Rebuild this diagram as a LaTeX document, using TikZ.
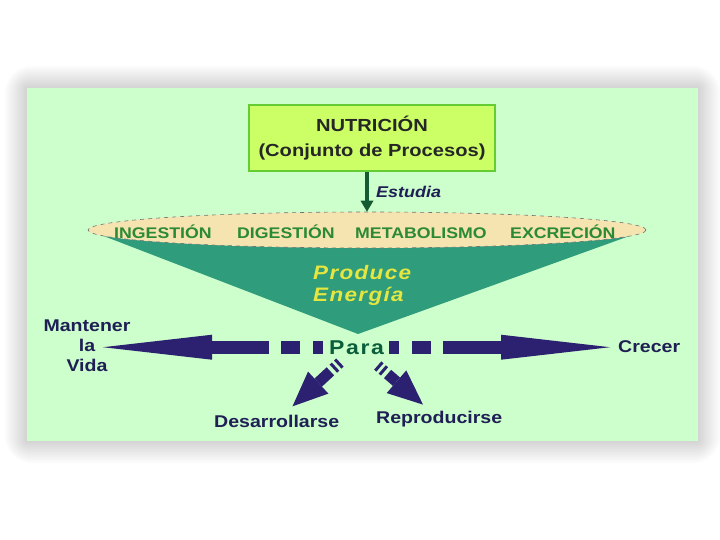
\documentclass[tikz,border=0pt]{standalone}
\usepackage{fontspec}
\setmainfont[FakeStretch=1.15]{Liberation Sans}
\usepackage{tikz}
\usetikzlibrary{arrows.meta,shapes.geometric,positioning}
\definecolor{panel}{HTML}{CCFFCC}
\definecolor{lima}{HTML}{CCFF66}
\definecolor{limaborde}{HTML}{66CC33}
\definecolor{embudo}{HTML}{2F9C7C}
\definecolor{trigo}{HTML}{F5E3B0}
\definecolor{verde}{HTML}{2A8A35}
\definecolor{amarillo}{HTML}{E6E640}
\definecolor{paraverde}{HTML}{0B5E3B}
\definecolor{azul}{HTML}{2B2170}
\definecolor{tinta}{HTML}{1F1F55}
\definecolor{flecha}{HTML}{145A32}
\tikzset{
  texto/.style={font=\bfseries\fontsize{17}{20}\selectfont,text=tinta,inner sep=0pt},
  proceso/.style={font=\bfseries\fontsize{15.4}{18}\selectfont,text=verde,inner sep=0pt,anchor=base west},
  gorda/.style={azul,line width=13pt,dash pattern=on 10pt off 13pt on 19pt off 12pt on 2000pt,
    -{Triangle[length=109pt,width=25pt,line width=0pt]}},
  diagonal/.style={azul,line width=11pt,dash pattern=on 3pt off 3pt on 3pt off 4pt on 2000pt,
    -{Triangle[length=35pt,width=30pt,line width=0pt]}},
}

\begin{document}
\begin{tikzpicture}[x=1pt,y=-1pt]
    \useasboundingbox (0,0) rectangle (720,540);
    \foreach \r in {1,...,14}
      \fill[black,opacity=.011,rounded corners=2*\r pt]
      ({27-1.6*\r},{88-1.6*\r}) rectangle ({698+1.6*\r},{441+1.6*\r});
    \fill[panel] (27,88) rectangle (698,441);

    \node[draw=limaborde,line width=2pt,fill=lima,minimum width=246pt,minimum height=66pt,
      align=center,font=\bfseries\fontsize{17.5}{25}\selectfont,text=black!85]
      (nutricion) at (372,138) {NUTRICIÓN\\(Conjunto de Procesos)};

    \fill[embudo] (88,230) -- (646,230) -- (358,334) -- cycle;
    \node[ellipse,draw=black!55,line width=.6pt,dash pattern=on 4pt off 4pt,fill=trigo,
      minimum width=558pt,minimum height=36pt,inner sep=0pt] (procesos) at (367,230) {};

    \path
    (114,238) node[proceso] (ingestion) {INGESTIÓN}
    (237,238) node[proceso] (digestion) {DIGESTIÓN}
    (355,238) node[proceso] (metabolismo) {METABOLISMO}
    (510,238) node[proceso] (excrecion) {EXCRECIÓN}
    ;

    \draw[flecha,line width=3.5pt,-{Triangle[length=11pt,width=13pt,line width=0pt]}]
      (nutricion.south -| procesos.north) -- (procesos.north);
    \node[texto,anchor=base west,font=\bfseries\itshape\fontsize{15.6}{18}\selectfont]
      (estudia) at (376,197) {Estudia};

    \node[inner sep=0pt,anchor=west,align=left,text=amarillo,
      font=\bfseries\itshape\fontsize{19.5}{22}\selectfont\addfontfeatures{LetterSpace=7}]
      (energia) at (313,285) {Produce\\Energía};

    \node[inner sep=0pt,anchor=base west,text=paraverde,
      font=\bfseries\fontsize{20}{22}\selectfont\addfontfeatures{LetterSpace=8}]
      (para) at (329,354) {Para};

    \path
    (87,346) node[texto,align=center] (mantener) {Mantener\\la\\Vida}
    (618,352) node[texto,anchor=base west] (crecer) {Crecer}
    (214,427) node[texto,anchor=base west] (desarrollarse) {Desarrollarse}
    (376,423) node[texto,anchor=base west] (reproducirse) {Reproducirse}
    ;

    \draw[gorda,shorten <=6pt,shorten >=16pt] (para.west) -- (para.west -| mantener.center);
    \draw[gorda,shorten <=5pt,shorten >=8pt] (para.east) -- (para.east -| crecer.west);
    \draw[diagonal,shorten <=12pt,shorten >=12pt] (para) -- (desarrollarse);
    \draw[diagonal,shorten <=17pt,shorten >=9pt] (para) -- (reproducirse);
\end{tikzpicture}
\end{document}
